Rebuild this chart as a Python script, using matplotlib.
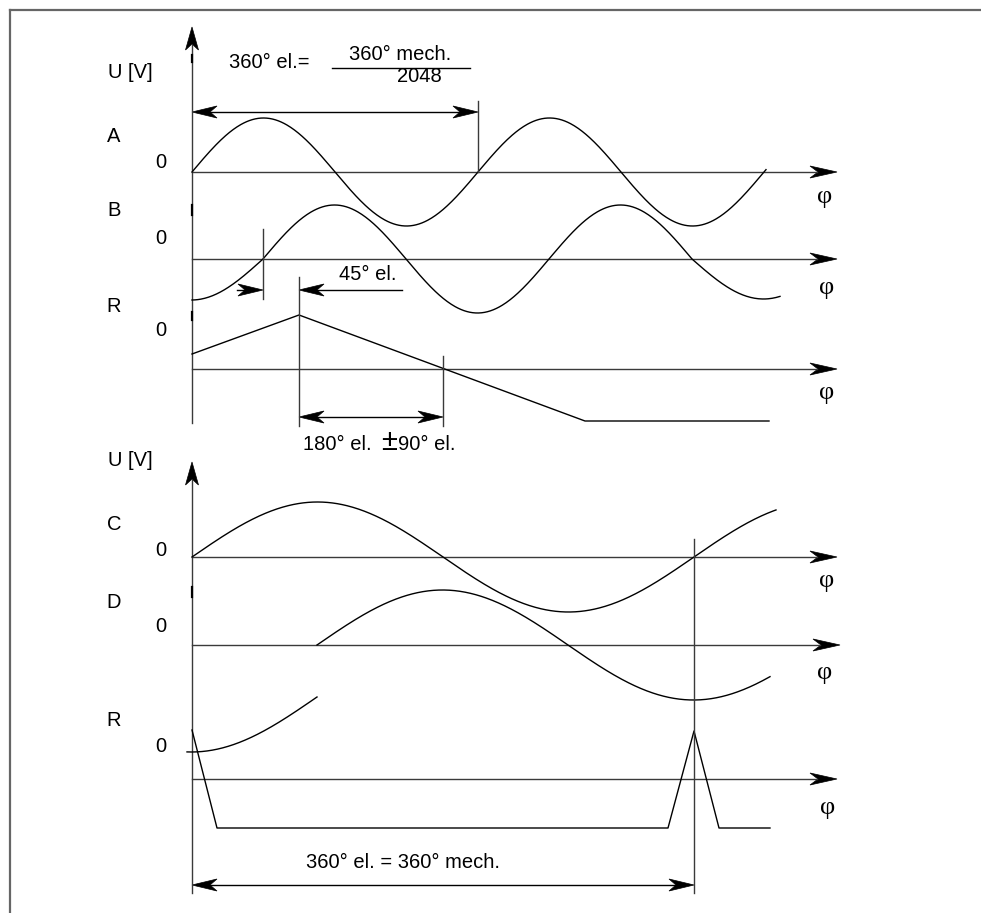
import numpy as np
import matplotlib
matplotlib.use("Agg")
import matplotlib.pyplot as plt
from matplotlib.patches import Polygon

# Diagram is drawn in pixel space of the 981x913 reference (y grows downward)
W, H = 981, 913

# --- signal parameters (zero crossing, period, baseline, amplitude, x-range) ---
A_WAVE = dict(zero=192, period=286, base=172, amp=54, x0=192, x1=766)
B_WAVE = dict(zero=263, period=286, base=259, amp=54, x0=192, x1=780)
B_NEG_AMPS = {-1: 41, 0: 54, 1: 40}          # depth of each negative lobe of B
R1_X = [192, 299, 585, 769]
R1_Y = [354, 315, 421, 421]

C_WAVE = dict(zero=192, period=502, base=557, amp=55, x0=192, x1=776)
D_WAVE = dict(zero=317, period=502, base=645, amp=55, x0=317, x1=770)
D_PRE = dict(zero=317, period=502, base=697, amp=55, x0=187, x1=317)
R2_X = [192, 217, 668, 694, 719, 770]
R2_Y = [730, 828, 828, 731, 828, 828]

# --- axes ---
Y_AXIS_X = 192
Y_AXIS_TOP = [(27, 50, 423), (462, 485, 893)]   # tip, head base, line end
U_LABEL_Y = [72, 460]
PHI_AXES_Y = [172, 259, 369, 557, 645, 779]
PHI_AXIS_TIP = [837, 837, 837, 837, 840, 837]
PHI_POS = [(825, 197), (827, 288), (827, 393), (827, 581), (825, 673), (828, 808)]

CH_LABELS = ["A", "B", "R", "C", "D", "R"]
CH_LABEL_Y = [137, 211, 306, 524, 602, 720]
ZERO_Y = [162, 238, 330, 551, 627, 746]

# --- dimension lines ---
TICKS = [(478, 101, 172), (263, 229, 299), (299, 277, 426), (443, 356, 426), (694, 539, 893)]
DIM_DOUBLE = [(192, 478, 112), (299, 443, 417), (192, 694, 885)]

LINE = "black"
AUX = "#3a3a3a"


def sine(p, neg_amps=None):
    x = np.linspace(p["x0"], p["x1"], 600)
    ph = (x - p["zero"]) / p["period"]
    s = np.sin(2 * np.pi * ph)
    amp = np.full_like(x, p["amp"], dtype=float)
    if neg_amps is not None:
        lobe = np.floor(ph - 0.5).astype(int)
        for k, a in neg_amps.items():
            amp[(s < 0) & (lobe == k)] = a
    return x, p["base"] - amp * s


def head(ax, tip, d, length=25, half=6.5, notch=7):
    d = np.asarray(d, float) / np.hypot(*d)
    perp = np.array([-d[1], d[0]])
    tip = np.asarray(tip, float)
    back = tip - length * d
    pts = [tip, back + half * perp, tip - (length - notch) * d, back - half * perp]
    ax.add_patch(Polygon(pts, closed=True, facecolor="black", edgecolor="black", lw=0.5))


fig = plt.figure(figsize=(W / 100, H / 100), dpi=100)
ax = fig.add_axes([0, 0, 1, 1])
ax.set_xlim(0, W)
ax.set_ylim(H, 0)
ax.axis("off")

plt.rcParams["font.family"] = ["Liberation Sans", "DejaVu Sans"]
FS = 14.5

# frame
ax.plot([10, W], [10, 10], color="#666666", lw=1.6)
ax.plot([10, 10], [10, H], color="#666666", lw=1.6)

# vertical U axes
for (tip, hb, end), uy in zip(Y_AXIS_TOP, U_LABEL_Y):
    ax.plot([Y_AXIS_X, Y_AXIS_X], [hb - 5, end], color=AUX, lw=1.0)
    head(ax, (Y_AXIS_X, tip), (0, -1), length=hb - tip, half=6.5, notch=6)
    ax.text(130, uy, "U [V]", fontsize=FS, ha="center", va="center")

# small dark marks on the vertical axis
for y0, y1 in [(55, 62), (205, 215), (312, 320), (587, 597)]:
    ax.plot([Y_AXIS_X, Y_AXIS_X], [y0, y1], color="black", lw=1.6)

# phi axes
for y, tipx, (px, py) in zip(PHI_AXES_Y, PHI_AXIS_TIP, PHI_POS):
    ax.plot([Y_AXIS_X, tipx - 20], [y, y], color=AUX, lw=1.0)
    head(ax, (tipx, y), (1, 0), length=27, half=6, notch=8)
    ax.text(px, py, "φ", fontsize=19, family="Liberation Serif", ha="center", va="center")

for lab, ly, zy in zip(CH_LABELS, CH_LABEL_Y, ZERO_Y):
    ax.text(114, ly, lab, fontsize=FS, ha="center", va="center")
    ax.text(161, zy, "0", fontsize=FS, ha="center", va="center")

# signals
for p in (A_WAVE, C_WAVE, D_WAVE, D_PRE):
    x, y = sine(p)
    ax.plot(x, y, color=LINE, lw=1.0)
x, y = sine(B_WAVE, B_NEG_AMPS)
ax.plot(x, y, color=LINE, lw=1.0)
ax.plot(R1_X, R1_Y, color=LINE, lw=1.0)
ax.plot(R2_X, R2_Y, color=LINE, lw=1.0)

# dimension ticks
for x, y0, y1 in TICKS:
    ax.plot([x, x], [y0, y1], color=AUX, lw=1.0)

# double-headed dimension arrows
for x0, x1, y in DIM_DOUBLE:
    ax.plot([x0 + 10, x1 - 10], [y, y], color=LINE, lw=1.0)
    head(ax, (x0, y), (-1, 0), length=25, half=6)
    head(ax, (x1, y), (1, 0), length=25, half=6)

# 45 deg el. arrows (pointing inward)
ax.plot([237, 255], [290, 290], color=LINE, lw=1.0)
head(ax, (263, 290), (1, 0), length=25, half=6)
ax.plot([310, 402], [290, 290], color=LINE, lw=1.0)
head(ax, (299, 290), (-1, 0), length=25, half=6)

# annotations
ax.text(269, 62, "360° el.=", fontsize=FS, ha="center", va="center")
ax.text(400, 55, "360° mech.", fontsize=FS, ha="center", va="center")
ax.plot([332, 470], [68.5, 68.5], color=LINE, lw=1.0)
ax.text(419, 77, "2048", fontsize=FS, ha="center", va="center")
ax.text(368, 274, "45° el.", fontsize=FS, ha="center", va="center")
ax.text(303, 450, "180° el.", fontsize=FS, ha="left", va="baseline")
ax.text(389, 450, "±", fontsize=21, ha="center", va="baseline")
ax.text(398, 450, "90° el.", fontsize=FS, ha="left", va="baseline")
ax.text(403, 863, "360° el. = 360° mech.", fontsize=FS, ha="center", va="center")

fig.savefig("out.png", dpi=100)
